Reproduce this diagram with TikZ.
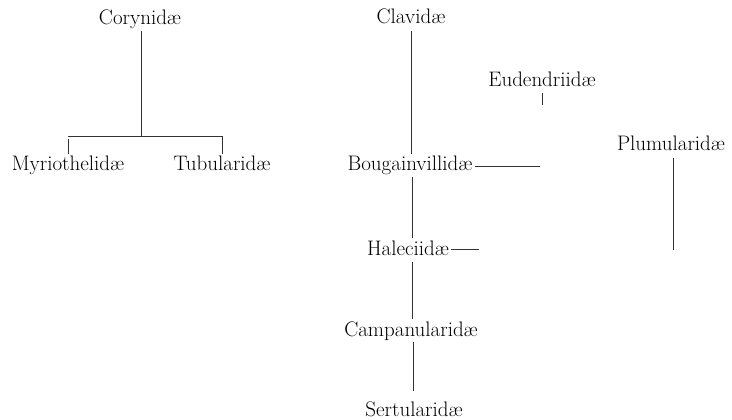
\documentclass[tikz,border=0pt]{standalone}
\usepackage{fontspec}
\begin{document}
\begin{tikzpicture}[x=1pt,y=-1pt,
  fam/.style={anchor=base,inner sep=2pt,
    font=\fontsize{21}{24}\selectfont\addfontfeature{LetterSpace=8}},
  stem/.style={line width=0.7pt,black!80}]
\useasboundingbox (0,0) rectangle (732,420);
% left group
\node[fam] (cory) at (140,25) {Corynid\ae};
\node[fam] (myrio) at (68,171) {Myriothelid\ae};
\node[fam] (tub) at (222,171) {Tubularid\ae};
\coordinate (fork) at (141,136);
\coordinate (forkL) at (68,136);
\coordinate (forkR) at (222,136);
\draw[stem] (cory.south -| fork) -- (fork);
\draw[stem] (forkL) -- (forkR);
\draw[stem] (myrio.north) -- +(0,-15);
\draw[stem] (tub.north) -- +(0,-18);
% main stem
\node[fam] (clav) at (411,24) {Clavid\ae};
\node[fam] (boug) at (410,171) {Bougainvillid\ae};
\node[fam] (hal) at (408,255) {Haleciid\ae};
\node[fam] (camp) at (411,336) {Campanularid\ae};
\node[fam] (sert) at (414,416) {Sertularid\ae};
\draw[stem,shorten <=4pt] (clav.south) -- (clav.south |- boug.north);
\draw[stem] (boug.south -| 412,0) -- (hal.north -| 412,0);
\draw[stem,shorten <=5pt] (hal.south -| 412,0) -- (camp.north -| 412,0);
\draw[stem,shorten >=8pt] (camp.south -| 413,0) -- (sert.north -| 413,0);
\coordinate (bougEnd) at (540,166);
\coordinate (halEnd) at (479,249);
\draw[stem] (boug.east |- bougEnd) -- (bougEnd);
\draw[stem] (hal.east |- halEnd) -- (halEnd);
% side branches
\node[fam] (eud) at (542,87) {Eudendriid\ae};
\node[fam] (plum) at (671,150) {Plumularid\ae};
\draw[stem] (eud.south) ++(0,4) -- ++(0,12);
\coordinate (plumEnd) at (673,250);
\draw[stem,shorten <=6pt] (plum.south -| plumEnd) -- (plumEnd);
\end{tikzpicture}
\end{document}
